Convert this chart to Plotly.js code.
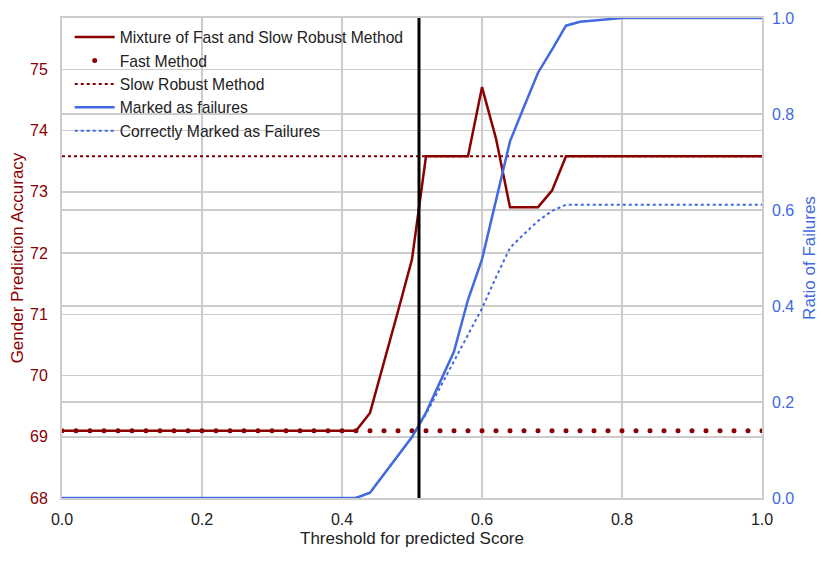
<!DOCTYPE html>
<html>
<head>
<meta charset="utf-8">
<script src="https://cdn.plot.ly/plotly-3.0.1.min.js"></script>
<style>html,body{margin:0;padding:0;background:#fff;}#chart{width:830px;height:561px;}</style>
</head>
<body>
<div id="chart"></div>
<script>
// Thresholds (x values)
const thresholds = [0.00,0.02,0.04,0.06,0.08,0.10,0.12,0.14,0.16,0.18,0.20,0.22,0.24,0.26,0.28,0.30,0.32,0.34,0.36,0.38,0.40,0.42,0.44,0.46,0.48,0.50,0.52,0.54,0.56,0.58,0.60,0.62,0.64,0.66,0.68,0.70,0.72,0.74,0.76,0.78,0.80,0.82,0.84,0.86,0.88,0.90,0.92,0.94,0.96,0.98,1.00];

// Gender prediction accuracy (left axis)
const mixture = [69.1,69.1,69.1,69.1,69.1,69.1,69.1,69.1,69.1,69.1,69.1,69.1,69.1,69.1,69.1,69.1,69.1,69.1,69.1,69.1,69.1,69.1,
  69.39,70.2,71.05,71.9,73.58,73.58,73.58,73.58,74.71,73.87,72.75,72.75,72.75,73.02,
  73.58,73.58,73.58,73.58,73.58,73.58,73.58,73.58,73.58,73.58,73.58,73.58,73.58,73.58,73.58];
const fastMethod = [69.1,69.1,69.1,69.1,69.1,69.1,69.1,69.1,69.1,69.1,69.1,69.1,69.1,69.1,69.1,69.1,69.1,69.1,69.1,69.1,69.1,69.1,69.1,69.1,69.1,69.1,69.1,69.1,69.1,69.1,69.1,69.1,69.1,69.1,69.1,69.1,69.1,69.1,69.1,69.1,69.1,69.1,69.1,69.1,69.1,69.1,69.1,69.1,69.1,69.1,69.1];
const slowRobust = [73.58,73.58,73.58,73.58,73.58,73.58,73.58,73.58,73.58,73.58,73.58,73.58,73.58,73.58,73.58,73.58,73.58,73.58,73.58,73.58,73.58,73.58,73.58,73.58,73.58,73.58,73.58,73.58,73.58,73.58,73.58,73.58,73.58,73.58,73.58,73.58,73.58,73.58,73.58,73.58,73.58,73.58,73.58,73.58,73.58,73.58,73.58,73.58,73.58,73.58,73.58];

// Ratio of failures (right axis)
const markedFailures = [0,0,0,0,0,0,0,0,0,0,0,0,0,0,0,0,0,0,0,0,0,0,
  0.011,0.05,0.09,0.127,0.178,0.24,0.305,0.413,0.497,0.62,0.743,0.815,0.886,0.934,0.984,0.992,0.995,0.997,
  1,1,1,1,1,1,1,1,1,1,1];
const correctlyMarked = [0,0,0,0,0,0,0,0,0,0,0,0,0,0,0,0,0,0,0,0,0,0,
  0.011,0.05,0.09,0.127,0.175,0.23,0.285,0.34,0.395,0.46,0.521,0.55,0.577,0.598,0.611,
  0.611,0.611,0.611,0.611,0.611,0.611,0.611,0.611,0.611,0.611,0.611,0.611,0.611,0.611];

const chosenThreshold = 0.51;

const red = '#8b0000';
const blue = '#4169e1';
const font = 'Liberation Sans, Arial, sans-serif';

const traces = [
  {x: thresholds, y: mixture, mode: 'lines', name: 'Mixture of Fast and Slow Robust Method',
   line: {color: red, width: 2.5}},
  {x: thresholds, y: fastMethod, mode: 'markers', name: 'Fast Method',
   marker: {color: red, size: 5}},
  {x: thresholds, y: slowRobust, mode: 'lines', name: 'Slow Robust Method',
   line: {color: red, width: 2, dash: 'dot'}},
  {x: thresholds, y: markedFailures, mode: 'lines', name: 'Marked as failures', yaxis: 'y2',
   line: {color: blue, width: 2.5}},
  {x: thresholds, y: correctlyMarked, mode: 'lines', name: 'Correctly Marked as Failures', yaxis: 'y2',
   line: {color: blue, width: 2, dash: 'dot'}}
];

const layout = {
  width: 830, height: 561,
  margin: {l: 62, r: 68, t: 18, b: 63},
  paper_bgcolor: '#fff', plot_bgcolor: '#fff',
  font: {family: font, size: 16, color: '#222'},
  showlegend: true,
  legend: {x: 0.011, y: 0.995, xanchor: 'left', yanchor: 'top', bgcolor: 'rgba(0,0,0,0)',
           font: {family: font, size: 15.7, color: '#222'}, tracegroupgap: 0, itemwidth: 40},
  xaxis: {range: [0, 1], dtick: 0.2, tick0: 0, tickformat: '.1f', showgrid: true, gridcolor: '#cccccc', gridwidth: 1.5,
          zeroline: false, showline: true, mirror: true, linecolor: '#cccccc', linewidth: 2, ticks: '',
          ticklabelstandoff: 6,
          tickfont: {family: font, size: 16, color: '#222'},
          title: {text: 'Threshold for predicted Score', font: {family: font, size: 17, color: '#222'}, standoff: 5}},
  yaxis: {range: [68, 75.84], dtick: 1, tick0: 68, showgrid: true, gridcolor: '#cccccc', gridwidth: 1.5,
          zeroline: false, showline: true, mirror: true, linecolor: '#cccccc', linewidth: 2, ticks: '',
          ticklabelstandoff: 9,
          tickfont: {family: font, size: 16, color: red},
          title: {text: 'Gender Prediction Accuracy', font: {family: font, size: 17, color: red}, standoff: 2}},
  yaxis2: {range: [0, 1], dtick: 0.2, tick0: 0, tickformat: '.1f', overlaying: 'y', side: 'right',
           showgrid: true, gridcolor: '#cccccc', gridwidth: 1.5, zeroline: false, ticks: '',
           ticklabelstandoff: 9,
           tickfont: {family: font, size: 16, color: blue},
           title: {text: 'Ratio of Failures', font: {family: font, size: 17, color: blue}, standoff: 9}},
  shapes: [{type: 'line', xref: 'x', yref: 'paper', x0: chosenThreshold, x1: chosenThreshold, y0: 0, y1: 1,
            line: {color: '#000', width: 3}}]
};

Plotly.newPlot('chart', traces, layout, {displayModeBar: false, staticPlot: true});
</script>
</body>
</html>
